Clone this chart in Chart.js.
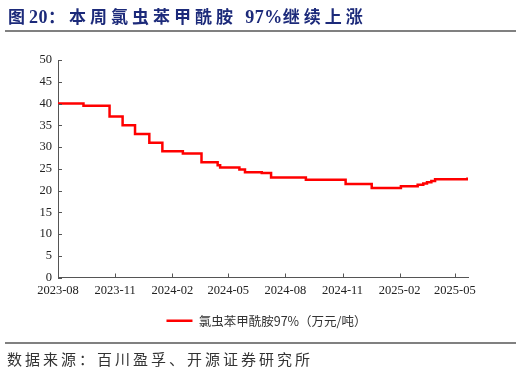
<!DOCTYPE html>
<html>
<head>
<meta charset="utf-8">
<script src="https://cdn.jsdelivr.net/npm/chart.js@4.4.0/dist/chart.umd.min.js"></script>
<style>
  body { margin: 0; width: 521px; height: 373px; background: #fff; position: relative; overflow: hidden; }
  #title { position: absolute; left: 8px; top: 3px; font: bold 17px "Liberation Serif", "Noto Sans CJK SC", serif; letter-spacing: 4px; color: #1c2a7a; white-space: nowrap; }
  #title .num { letter-spacing: 0.5px; font-size: 18px; }
  .rule { position: absolute; left: 5px; width: 511px; height: 2px; background: #808080; }
  #source { position: absolute; left: 7px; top: 348px; font: 15px "Noto Sans CJK SC", sans-serif; letter-spacing: 3px; color: #333; white-space: nowrap; }
  #wrap { position: absolute; left: 0; top: 0; width: 521px; height: 373px; }
</style>
</head>
<body>
<div id="wrap"><canvas id="chart"></canvas></div>
<div id="title">图<span class="num">20</span>：本周氯虫苯甲酰胺 <span class="num">97%</span>继续上涨</div>
<div class="rule" style="top:30px"></div>
<div class="rule" style="top:342px"></div>
<div id="source">数据来源：百川盈孚、开源证券研究所</div>
<script>
// data (price changes, step-wise)
const seriesName = '氯虫苯甲酰胺97%（万元/吨）';
const changeDates = ['2023-08-01', '2023-09-11', '2023-10-23', '2023-11-13', '2023-12-03', '2023-12-26',
  '2024-01-16', '2024-02-18', '2024-03-19', '2024-04-14', '2024-04-18', '2024-05-19', '2024-05-28',
  '2024-06-24', '2024-07-09', '2024-09-03', '2024-11-06', '2024-12-18', '2025-02-03', '2025-03-02',
  '2025-03-11', '2025-03-17', '2025-03-24', '2025-03-30', '2025-05-19', '2025-05-21'];
const prices = [40, 39.5, 37, 35, 33, 31, 29, 28.5, 26.5, 25.8, 25.3, 24.8, 24.2, 24.0, 23.0, 22.5,
  21.5, 20.6, 21.0, 21.3, 21.6, 21.9, 22.2, 22.6, 22.6, 23.0];
const tickLabels = ['2023-08', '2023-11', '2024-02', '2024-05', '2024-08', '2024-11', '2025-02', '2025-05'];
const startDate = '2023-08-01';
const endDate = '2025-05-22';
const yMin = 0, yMax = 50, yStep = 5;

const base = Date.parse(startDate);
const dayOf = s => (Date.parse(s) - base) / 86400000;

const points = changeDates.map((d, i) => ({ x: dayOf(d), y: prices[i] }));

// small inward tick marks like the original
const innerTicks = {
  id: 'innerTicks',
  afterLayout(chart) {
    // centre the legend on the page, not on the padded box
    const lg = chart.legend;
    if (lg) { lg.left = 12; lg.right = chart.width; lg.width = lg.right - lg.left; }
  },
  afterDraw(chart) {
    const { ctx, chartArea, scales } = chart;
    ctx.save();
    ctx.strokeStyle = '#555';
    ctx.lineWidth = 1;
    ctx.beginPath();
    scales.x.ticks.forEach(t => {
      const px = Math.round(scales.x.getPixelForValue(t.value)) + 0.5;
      ctx.moveTo(px, chartArea.bottom);
      ctx.lineTo(px, chartArea.bottom - 4);
    });
    scales.y.ticks.forEach(t => {
      const py = Math.round(scales.y.getPixelForValue(t.value)) + 0.5;
      ctx.moveTo(chartArea.left, py);
      ctx.lineTo(chartArea.left + 4, py);
    });
    ctx.stroke();
    ctx.restore();
  }
};

const tickFont = { family: '"Liberation Serif", serif', size: 12.5 };

new Chart(document.getElementById('chart'), {
  type: 'line',
  data: {
    datasets: [{
      label: seriesName,
      data: points,
      borderColor: '#ff0000',
      backgroundColor: '#ff0000',
      borderWidth: 2.5,
      pointRadius: 0,
      stepped: 'before',
      fill: false
    }]
  },
  options: {
    responsive: true,
    maintainAspectRatio: false,
    animation: false,
    layout: { padding: { left: 0, right: 53, top: 60, bottom: 36 } },
    plugins: {
      tooltip: { enabled: false },
      legend: {
        position: 'bottom',
        labels: {
          usePointStyle: true,
          pointStyle: 'line',
          pointStyleWidth: 26,
          color: '#333',
          padding: 8,
          font: { family: '"Noto Sans CJK SC", sans-serif', size: 12.5 }
        }
      }
    },
    scales: {
      x: {
        type: 'linear',
        min: 0,
        max: dayOf(endDate),
        afterBuildTicks: scale => {
          scale.ticks = tickLabels.map(t => ({ value: dayOf(t + '-01') }));
        },
        afterFit: scale => { scale.height = 29; },
        ticks: {
          autoSkip: false,
          maxRotation: 0,
          color: '#222',
          font: tickFont,
          padding: 6,
          callback: (v, i) => tickLabels[i]
        },
        grid: { drawOnChartArea: false, drawTicks: false },
        border: { color: '#555', width: 1 }
      },
      y: {
        min: yMin,
        max: yMax,
        afterFit: scale => { scale.width = 58; },
        ticks: { stepSize: yStep, color: '#222', font: tickFont, padding: 6 },
        grid: { drawOnChartArea: false, drawTicks: false },
        border: { color: '#555', width: 1 }
      }
    }
  },
  plugins: [innerTicks]
});
</script>
</body>
</html>
